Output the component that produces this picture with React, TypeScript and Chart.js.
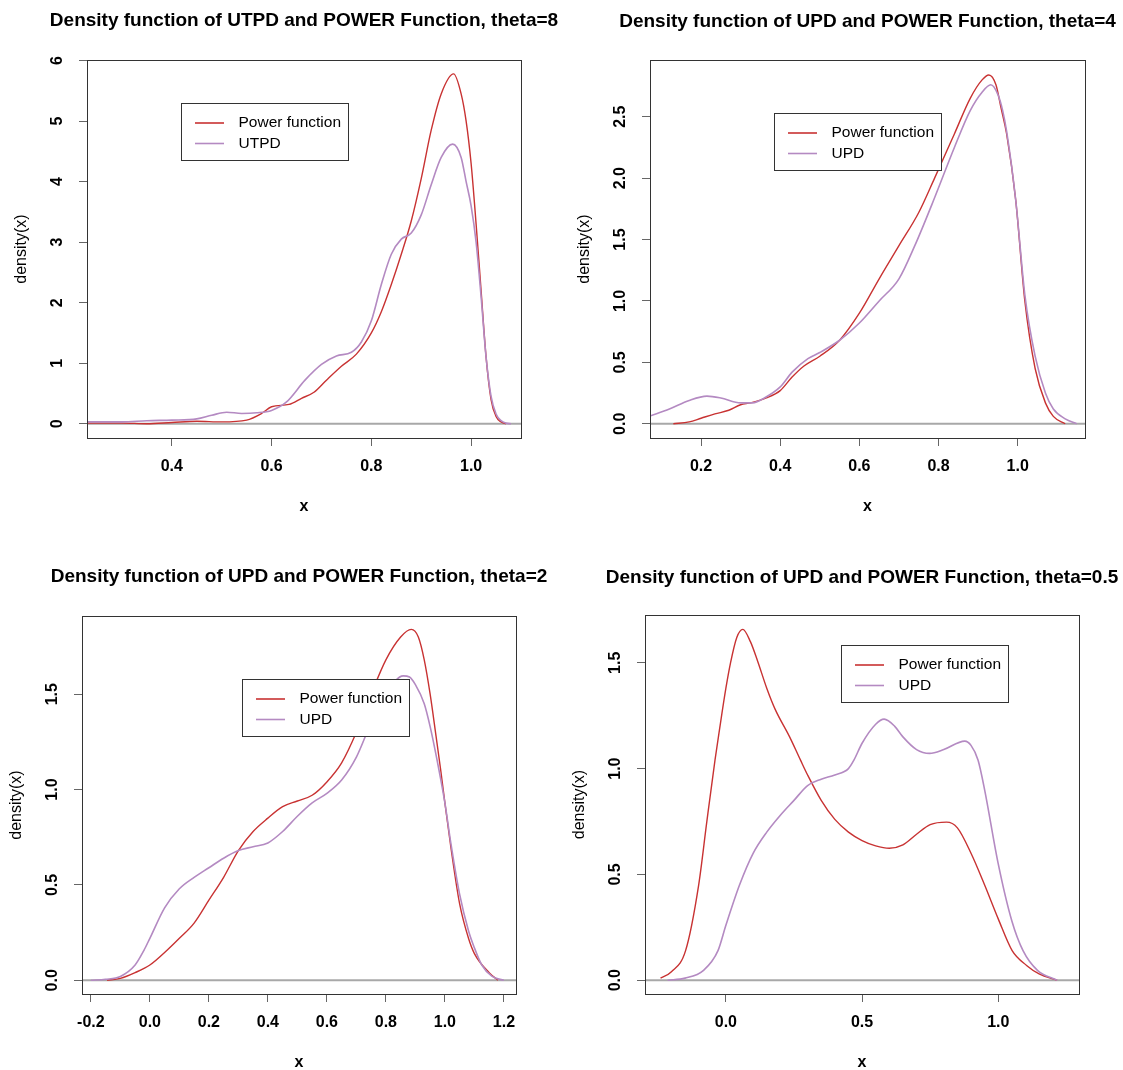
import React, { useEffect, useRef } from "react";
import { Chart, registerables } from "chart.js";

Chart.register(...registerables);

const RED = "#c83232";
const PURPLE = "#b48ac2";
const FONT = '"Liberation Sans", Arial, sans-serif';

// ---------- Panel 1: theta = 8 ----------
const p1Title = "Density function of UTPD and POWER Function, theta=8";
const p1Legend = ["Power function", "UTPD"];
const p1XTicks = [0.4, 0.6, 0.8, 1.0];
const p1XTickLabels = ["0.4", "0.6", "0.8", "1.0"];
const p1YTicks = [0, 1, 2, 3, 4, 5, 6];
const p1YTickLabels = ["0", "1", "2", "3", "4", "5", "6"];
const p1XRange = [0.23, 1.1];
const p1YRange = [-0.236, 6.01];
const p1PowerX = [0.23, 0.3, 0.35, 0.4, 0.45, 0.5, 0.55, 0.58, 0.6, 0.635, 0.66, 0.685, 0.71, 0.74, 0.77, 0.8, 0.82, 0.84, 0.86, 0.88, 0.9, 0.92, 0.94, 0.965, 0.98, 0.99, 1.0, 1.01, 1.02, 1.03, 1.04, 1.05, 1.06, 1.07];
const p1PowerY = [0.01, 0.01, 0.0, 0.02, 0.04, 0.03, 0.06, 0.17, 0.28, 0.32, 0.42, 0.52, 0.72, 0.95, 1.15, 1.5, 1.85, 2.3, 2.8, 3.35, 4.05, 4.85, 5.45, 5.78, 5.45, 5.0, 4.3, 3.3, 2.2, 1.1, 0.4, 0.12, 0.03, 0.0];
const p1UtpdX = [0.23, 0.3, 0.35, 0.4, 0.45, 0.48, 0.51, 0.54, 0.57, 0.6, 0.63, 0.667, 0.7, 0.73, 0.76, 0.78, 0.8, 0.82, 0.84, 0.86, 0.88, 0.9, 0.92, 0.94, 0.963, 0.98, 0.99, 1.0, 1.01, 1.02, 1.03, 1.04, 1.05, 1.06, 1.07, 1.08];
const p1UtpdY = [0.03, 0.03, 0.05, 0.06, 0.08, 0.14, 0.19, 0.17, 0.18, 0.22, 0.36, 0.72, 0.98, 1.12, 1.18, 1.35, 1.7, 2.3, 2.8, 3.05, 3.15, 3.45, 3.95, 4.4, 4.62, 4.4, 4.0, 3.6, 3.0, 2.1, 1.1, 0.45, 0.16, 0.05, 0.01, 0.0];

// ---------- Panel 2: theta = 4 ----------
const p2Title = "Density function of UPD and POWER Function, theta=4";
const p2Legend = ["Power function", "UPD"];
const p2XTicks = [0.2, 0.4, 0.6, 0.8, 1.0];
const p2XTickLabels = ["0.2", "0.4", "0.6", "0.8", "1.0"];
const p2YTicks = [0, 0.5, 1, 1.5, 2, 2.5];
const p2YTickLabels = ["0.0", "0.5", "1.0", "1.5", "2.0", "2.5"];
const p2XRange = [0.071, 1.17];
const p2YRange = [-0.116, 2.962];
const p2PowerX = [0.13, 0.17, 0.2, 0.235, 0.27, 0.3, 0.325, 0.365, 0.4, 0.43, 0.46, 0.5, 0.55, 0.6, 0.65, 0.7, 0.75, 0.79, 0.84, 0.88, 0.91, 0.927, 0.945, 0.958, 0.972, 0.995, 1.018, 1.044, 1.07, 1.09, 1.12];
const p2PowerY = [0.0, 0.015, 0.045, 0.08, 0.11, 0.155, 0.17, 0.21, 0.27, 0.38, 0.47, 0.55, 0.68, 0.9, 1.18, 1.45, 1.72, 2.0, 2.36, 2.65, 2.8, 2.84, 2.76, 2.57, 2.36, 1.82, 1.0, 0.45, 0.17, 0.06, 0.0];
const p2UpdX = [0.071, 0.12, 0.17, 0.215, 0.25, 0.3, 0.33, 0.36, 0.4, 0.43, 0.47, 0.5, 0.55, 0.6, 0.65, 0.7, 0.74, 0.79, 0.84, 0.88, 0.91, 0.932, 0.95, 0.962, 0.972, 0.995, 1.018, 1.044, 1.07, 1.09, 1.12, 1.149];
const p2UpdY = [0.063, 0.12, 0.19, 0.225, 0.21, 0.17, 0.17, 0.21, 0.3, 0.42, 0.53, 0.58, 0.68, 0.82, 1.0, 1.18, 1.45, 1.84, 2.25, 2.55, 2.7, 2.76, 2.68, 2.55, 2.38, 1.82, 1.05, 0.55, 0.25, 0.12, 0.04, 0.0];

// ---------- Panel 3: theta = 2 ----------
const p3Title = "Density function of UPD and POWER Function, theta=2";
const p3Legend = ["Power function", "UPD"];
const p3XTicks = [-0.2, 0.0, 0.2, 0.4, 0.6, 0.8, 1.0, 1.2];
const p3XTickLabels = ["-0.2", "0.0", "0.2", "0.4", "0.6", "0.8", "1.0", "1.2"];
const p3YTicks = [0, 0.5, 1, 1.5];
const p3YTickLabels = ["0.0", "0.5", "1.0", "1.5"];
const p3XRange = [-0.23, 1.241];
const p3YRange = [-0.072, 1.91];
const p3PowerX = [-0.145, -0.1, -0.05, 0.0, 0.06, 0.1, 0.15, 0.2, 0.25, 0.3, 0.35, 0.4, 0.45, 0.5, 0.55, 0.6, 0.65, 0.7, 0.75, 0.8, 0.85, 0.886, 0.91, 0.93, 0.95, 0.97, 0.986, 1.0, 1.02, 1.05, 1.08, 1.1, 1.15, 1.18];
const p3PowerY = [0.0, 0.01, 0.04, 0.08, 0.16, 0.22, 0.3, 0.42, 0.54, 0.68, 0.78, 0.85, 0.91, 0.94, 0.97, 1.04, 1.14, 1.3, 1.5, 1.68, 1.8, 1.84, 1.8, 1.68, 1.5, 1.28, 1.1, 0.93, 0.7, 0.4, 0.22, 0.14, 0.04, 0.0];
const p3UpdX = [-0.2, -0.15, -0.1, -0.05, -0.02, 0.0, 0.05, 0.1, 0.15, 0.2, 0.25, 0.3, 0.35, 0.4, 0.45, 0.5, 0.55, 0.6, 0.65, 0.7, 0.75, 0.8, 0.859, 0.88, 0.9, 0.93, 0.95, 0.974, 1.0, 1.02, 1.05, 1.08, 1.1, 1.125, 1.16, 1.2];
const p3UpdY = [0.0, 0.005, 0.02, 0.08, 0.157, 0.22, 0.38, 0.48, 0.54, 0.59, 0.64, 0.68, 0.7, 0.72, 0.78, 0.86, 0.93, 0.98, 1.05, 1.17, 1.35, 1.5, 1.596, 1.59, 1.55, 1.45, 1.33, 1.15, 0.93, 0.72, 0.45, 0.26, 0.17, 0.08, 0.02, 0.0];

// ---------- Panel 4: theta = 0.5 ----------
const p4Title = "Density function of UPD and POWER Function, theta=0.5";
const p4Legend = ["Power function", "UPD"];
const p4XTicks = [0.0, 0.5, 1.0];
const p4XTickLabels = ["0.0", "0.5", "1.0"];
const p4YTicks = [0, 0.5, 1, 1.5];
const p4YTickLabels = ["0.0", "0.5", "1.0", "1.5"];
const p4XRange = [-0.297, 1.2965];
const p4YRange = [-0.065, 1.726];
const p4PowerX = [-0.24, -0.2, -0.148, -0.1, -0.07, -0.04, -0.024, 0.0, 0.017, 0.04, 0.062, 0.09, 0.116, 0.15, 0.181, 0.234, 0.274, 0.3, 0.35, 0.4, 0.45, 0.5, 0.55, 0.6, 0.65, 0.7, 0.75, 0.81, 0.85, 0.9, 0.95, 1.0, 1.051, 1.104, 1.15, 1.216];
const p4PowerY = [0.01, 0.04, 0.14, 0.45, 0.75, 1.04, 1.18, 1.38, 1.5, 1.62, 1.658, 1.6, 1.51, 1.38, 1.28, 1.15, 1.04, 0.97, 0.85, 0.76, 0.7, 0.66, 0.635, 0.624, 0.64, 0.69, 0.735, 0.747, 0.72, 0.6, 0.45, 0.29, 0.14, 0.07, 0.03, 0.0];
const p4UpdX = [-0.214, -0.15, -0.082, -0.029, 0.0, 0.05, 0.1, 0.15, 0.2, 0.25, 0.3, 0.35, 0.4, 0.45, 0.47, 0.5, 0.55, 0.581, 0.62, 0.65, 0.7, 0.748, 0.8, 0.877, 0.9, 0.926, 0.95, 1.0, 1.05, 1.091, 1.144, 1.216];
const p4UpdY = [0.0, 0.01, 0.047, 0.14, 0.26, 0.45, 0.6, 0.7, 0.78, 0.85, 0.92, 0.95, 0.97, 1.0, 1.04, 1.12, 1.21, 1.234, 1.2, 1.15, 1.09, 1.072, 1.09, 1.13, 1.11, 1.04, 0.9, 0.55, 0.28, 0.14, 0.047, 0.0];

const yAxisLabel = "density(x)";
const xAxisLabel = "x";

type PanelData = {
  title: string;
  legend: string[];
  xTicks: number[];
  xTickLabels: string[];
  yTicks: number[];
  yTickLabels: string[];
  xRange: number[];
  yRange: number[];
  powerX: number[];
  powerY: number[];
  otherX: number[];
  otherY: number[];
};

const panels: PanelData[] = [
  { title: p1Title, legend: p1Legend, xTicks: p1XTicks, xTickLabels: p1XTickLabels, yTicks: p1YTicks, yTickLabels: p1YTickLabels, xRange: p1XRange, yRange: p1YRange, powerX: p1PowerX, powerY: p1PowerY, otherX: p1UtpdX, otherY: p1UtpdY },
  { title: p2Title, legend: p2Legend, xTicks: p2XTicks, xTickLabels: p2XTickLabels, yTicks: p2YTicks, yTickLabels: p2YTickLabels, xRange: p2XRange, yRange: p2YRange, powerX: p2PowerX, powerY: p2PowerY, otherX: p2UpdX, otherY: p2UpdY },
  { title: p3Title, legend: p3Legend, xTicks: p3XTicks, xTickLabels: p3XTickLabels, yTicks: p3YTicks, yTickLabels: p3YTickLabels, xRange: p3XRange, yRange: p3YRange, powerX: p3PowerX, powerY: p3PowerY, otherX: p3UpdX, otherY: p3UpdY },
  { title: p4Title, legend: p4Legend, xTicks: p4XTicks, xTickLabels: p4XTickLabels, yTicks: p4YTicks, yTickLabels: p4YTickLabels, xRange: p4XRange, yRange: p4YRange, powerX: p4PowerX, powerY: p4PowerY, otherX: p4UpdX, otherY: p4UpdY },
];

type PanelLayout = {
  left: number; top: number; width: number; height: number;
  area: { l: number; t: number; r: number; b: number };
  legendX: number; legendY: number; titleY: number;
};

const layouts: PanelLayout[] = [
  { left: 0, top: 0, width: 561, height: 535, area: { l: 87, t: 60, r: 521, b: 438 }, legendX: 181, legendY: 103, titleY: 21 },
  { left: 561, top: 0, width: 562, height: 535, area: { l: 89, t: 60, r: 524, b: 438 }, legendX: 213, legendY: 113, titleY: 21.5 },
  { left: 0, top: 535, width: 561, height: 535, area: { l: 82, t: 81, r: 516, b: 459 }, legendX: 242, legendY: 144, titleY: 42 },
  { left: 561, top: 535, width: 562, height: 535, area: { l: 84, t: 80, r: 518, b: 459 }, legendX: 280, legendY: 110, titleY: 43 },
];

function toPoints(xs: number[], ys: number[]) {
  return xs.map((x, i) => ({ x, y: ys[i] }));
}

function labelFor(ticks: number[], labels: string[], v: number) {
  const i = ticks.findIndex((t) => Math.abs(t - v) < 1e-9);
  return i >= 0 ? labels[i] : "";
}

function Panel({ data, layout }: { data: PanelData; layout: PanelLayout }) {
  const ref = useRef<HTMLCanvasElement | null>(null);

  useEffect(() => {
    const canvas = ref.current;
    if (!canvas) return;
    const area = layout.area;

    const decor = {
      id: "rdecor",
      afterDraw(chart: any) {
        const ctx = chart.ctx as CanvasRenderingContext2D;
        const ca = chart.chartArea;
        ctx.save();
        ctx.strokeStyle = "#333333";
        ctx.lineWidth = 1;
        ctx.strokeRect(Math.round(ca.left) + 0.5, Math.round(ca.top) + 0.5, Math.round(ca.right - ca.left), Math.round(ca.bottom - ca.top));

        const cx = (ca.left + ca.right) / 2;
        const cy = (ca.top + ca.bottom) / 2;
        ctx.fillStyle = "#000";
        ctx.textAlign = "center";
        ctx.textBaseline = "middle";

        ctx.font = `bold 19px ${FONT}`;
        ctx.fillText(data.title, cx, layout.titleY);

        const ys = chart.scales.y;
        ctx.font = `bold 16px ${FONT}`;
        for (const t of ys.ticks) {
          const py = ys.getPixelForValue(t.value);
          ctx.save();
          ctx.translate(ca.left - 29, py);
          ctx.rotate(-Math.PI / 2);
          ctx.fillText(labelFor(data.yTicks, data.yTickLabels, t.value), 0, 0);
          ctx.restore();
        }

        ctx.font = `bold 16px ${FONT}`;
        ctx.fillText(xAxisLabel, cx, ca.bottom + 69);
        ctx.save();
        ctx.translate(ca.left - 65, cy);
        ctx.rotate(-Math.PI / 2);
        ctx.font = `16px ${FONT}`;
        ctx.fillText(yAxisLabel, 0, 0);
        ctx.restore();

        const lx = layout.legendX;
        const ly = layout.legendY;
        const lw = 167;
        const lh = 57;
        ctx.fillStyle = "#ffffff";
        ctx.fillRect(lx, ly, lw, lh);
        ctx.strokeStyle = "#333333";
        ctx.strokeRect(lx + 0.5, ly + 0.5, lw, lh);
        const colors = [RED, PURPLE];
        data.legend.forEach((name, i) => {
          const ry = ly + 20 + i * 20.5;
          ctx.strokeStyle = colors[i];
          ctx.lineWidth = 1.6;
          ctx.beginPath();
          ctx.moveTo(lx + 14, ry);
          ctx.lineTo(lx + 43, ry);
          ctx.stroke();
          ctx.fillStyle = "#000";
          ctx.textAlign = "left";
          ctx.font = `15.5px ${FONT}`;
          ctx.fillText(name, lx + 57.5, ry);
        });
        ctx.restore();
      },
    };

    const chart = new Chart(canvas, {
      type: "line",
      data: {
        datasets: [
          {
            label: data.legend[1],
            data: toPoints(data.otherX, data.otherY),
            borderColor: PURPLE,
            borderWidth: 1.6,
            pointRadius: 0,
            cubicInterpolationMode: "monotone",
            fill: false,
            order: 0,
          },
          {
            label: data.legend[0],
            data: toPoints(data.powerX, data.powerY),
            borderColor: RED,
            borderWidth: 1.4,
            pointRadius: 0,
            cubicInterpolationMode: "monotone",
            fill: false,
            order: 1,
          },
          {
            label: "zero",
            data: [
              { x: data.xRange[0], y: 0 },
              { x: data.xRange[1], y: 0 },
            ],
            borderColor: "#a8a8a8",
            borderWidth: 2,
            pointRadius: 0,
            fill: false,
            order: 2,
          },
        ],
      } as any,
      options: {
        responsive: false,
        animation: false,
        devicePixelRatio: 1,
        events: [],
        layout: {
          padding: { left: 0, top: area.t, right: layout.width - area.r, bottom: 0 },
        },
        plugins: {
          legend: { display: false },
          tooltip: { enabled: false },
          title: { display: false },
        },
        scales: {
          x: {
            type: "linear",
            position: "bottom",
            min: data.xRange[0],
            max: data.xRange[1],
            afterBuildTicks: (s: any) => {
              s.ticks = data.xTicks.map((v) => ({ value: v }));
            },
            afterFit: (s: any) => {
              s.height = layout.height - area.b;
            },
            border: { display: false },
            grid: { drawOnChartArea: false, drawTicks: true, tickLength: 8, color: "#666666", lineWidth: 1 },
            ticks: {
              autoSkip: false,
              maxRotation: 0,
              minRotation: 0,
              padding: 11,
              color: "#000",
              font: { family: FONT, size: 16, weight: "bold" },
              callback: (v: any) => labelFor(data.xTicks, data.xTickLabels, Number(v)),
            },
          },
          y: {
            type: "linear",
            position: "left",
            min: data.yRange[0],
            max: data.yRange[1],
            afterBuildTicks: (s: any) => {
              s.ticks = data.yTicks.map((v) => ({ value: v }));
            },
            afterFit: (s: any) => {
              s.width = area.l;
            },
            border: { display: false },
            grid: { drawOnChartArea: false, drawTicks: true, tickLength: 8, color: "#666666", lineWidth: 1 },
            ticks: { display: false },
          },
        },
      } as any,
      plugins: [decor],
    });

    return () => chart.destroy();
  }, [data, layout]);

  return (
    <canvas
      ref={ref}
      width={layout.width}
      height={layout.height}
      style={{ position: "absolute", left: layout.left, top: layout.top, width: layout.width, height: layout.height }}
    />
  );
}

export default function App() {
  return (
    <div style={{ position: "absolute", left: 0, top: 0, width: 1123, height: 1070, background: "#ffffff", overflow: "hidden" }}>
      {panels.map((p, i) => (
        <Panel key={i} data={p} layout={layouts[i]} />
      ))}
    </div>
  );
}
